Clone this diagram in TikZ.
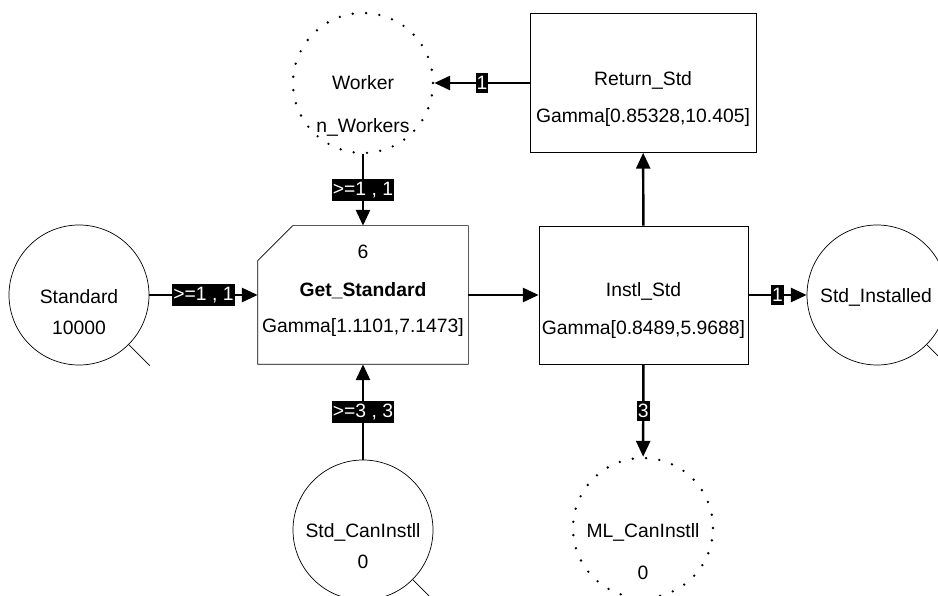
\documentclass[tikz,border=0pt]{standalone}
\usepackage{fontspec}
\setmainfont{Liberation Sans}
\usetikzlibrary{arrows.meta}
\tikzset{
	place/.style = {circle, draw, thin, minimum size = 2.8cm, inner sep = 0pt},
	dottedplace/.style = {circle, draw, minimum size = 2.8cm, inner sep = 0pt, line width = 1.5pt, line cap = round, dash pattern = on 0pt off 7.6pt},
	trans/.style = {rectangle, draw, thin, minimum height = 2.76cm, inner sep = 0pt},
	arc/.style = {line width = 1.4pt, -{Triangle[length = 9pt, width = 8pt]}},
	weight/.style = {fill = black, text = white, inner xsep = 0.6pt, inner ysep = 1.8pt}
}
\begin{document}
\begin{tikzpicture}[font = \fontsize{11}{13}\selectfont]
	\useasboundingbox (0, 0) rectangle (18.76, 11.92);
	% places
	\node (Worker) at ( 7.26, 10.26)	[dottedplace]	{};
	\node (Standard) at ( 1.58,  6.02)	[place]	{};
	\node (StdInstalled) at (17.54,  6.02)	[place]	{};
	\node (StdCanInstll) at ( 7.26,  1.32)	[place]	{};
	\node (MLCanInstll) at (12.86,  1.36)	[dottedplace]	{};
	% transitions
	\node (GetStandard) at ( 7.26,  6.02)	[rectangle, minimum width = 4.2cm, minimum height = 2.76cm, inner sep = 0pt]	{};
	\draw[thin] ([yshift = -0.7cm]GetStandard.north west) -- ([xshift = 0.7cm]GetStandard.north west) -- (GetStandard.north east) -- (GetStandard.south east) -- (GetStandard.south west) -- cycle;
	\node (InstlStd) at (12.87,  6.02)	[trans, minimum width = 4.18cm]	{};
	\node (ReturnStd) at (12.86, 10.26)	[trans, minimum width = 4.52cm, minimum height = 2.78cm]	{};
	% texts
	\node (Worker-name) at ( 7.26, 10.26)	{Worker};
	\node (Worker-val) at ( 7.26,  9.38)	{n\_Workers};
	\node (Standard-name) at ( 1.58,  5.98)	{Standard};
	\node (Standard-val) at ( 1.58,  5.36)	{10000};
	\node (StdInstalled-name) at (17.52,  5.98)	{Std\_Installed};
	\node (StdCanInstll-name) at ( 7.26,  1.28)	{Std\_CanInstll};
	\node (StdCanInstll-val) at ( 7.26,  0.68)	{0};
	\node (MLCanInstll-name) at (12.86,  1.28)	{ML\_CanInstll};
	\node (MLCanInstll-val) at (12.86,  0.46)	{0};
	\node (GetStandard-prio) at ( 7.26,  6.88)	{6};
	\node (GetStandard-name) at ( 7.26,  6.10)	{\bfseries Get\_Standard};
	\node (GetStandard-dist) at ( 7.26,  5.36)	{Gamma[1.1101,7.1473]};
	\node (InstlStd-name) at (12.87,  6.10)	{Instl\_Std};
	\node (InstlStd-dist) at (12.87,  5.32)	{Gamma[0.8489,5.9688]};
	\node (ReturnStd-name) at (12.86, 10.32)	{Return\_Std};
	\node (ReturnStd-dist) at (12.86,  9.56)	{Gamma[0.85328,10.405]};
	% arcs
	\draw[arc] (Standard) -- node[weight] {>=1 , 1} (GetStandard);
	\draw[arc] (Worker) -- node[weight] {>=1 , 1} (GetStandard);
	\draw[arc] (StdCanInstll) -- node[weight] {>=3 , 3} (GetStandard);
	\draw[arc] (GetStandard) -- (InstlStd);
	\draw[arc] (InstlStd) -- (ReturnStd);
	\draw[arc] (ReturnStd) -- node[weight] {1} (Worker);
	\draw[arc] (InstlStd) -- node[weight] {1} (StdInstalled);
	\draw[arc] (InstlStd) -- node[weight] {3} (MLCanInstll);
	% tails
	\draw[thin] (Standard.-45) -- ++(0.42, -0.42);
	\draw[thin] (StdInstalled.-45) -- ++(0.5, -0.5);
	\draw[thin] (StdCanInstll.-45) -- ++(0.5, -0.5);
\end{tikzpicture}
\end{document}
